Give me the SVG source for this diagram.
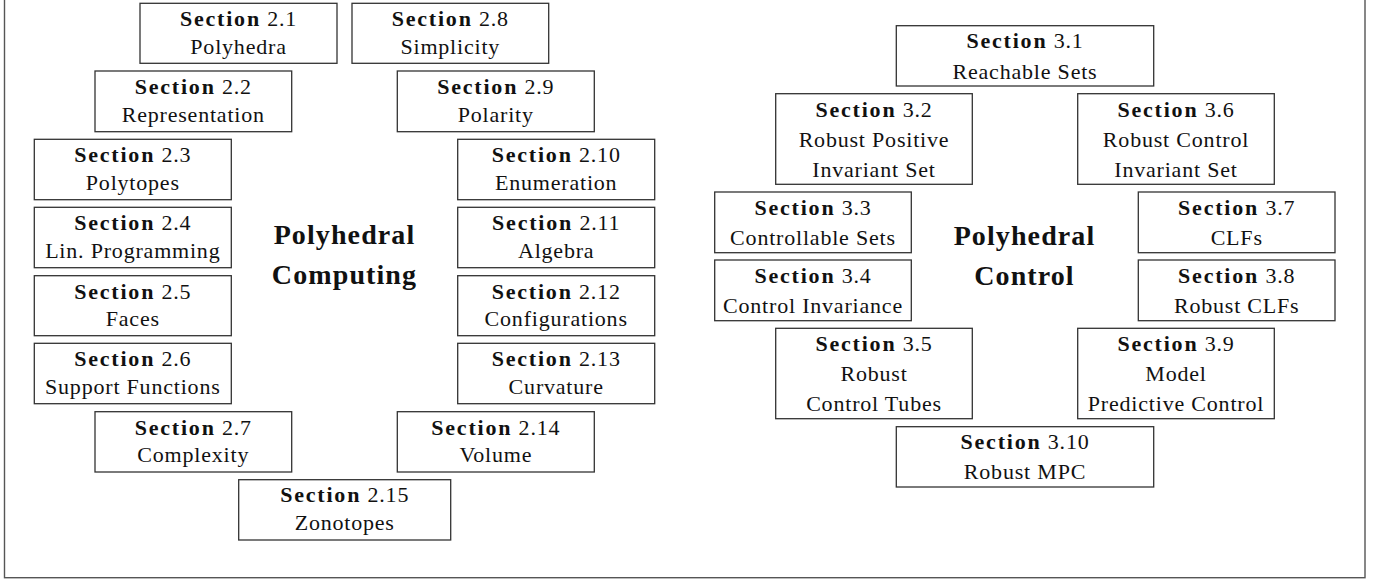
<svg xmlns="http://www.w3.org/2000/svg" width="1378" height="579" viewBox="0 0 1378 579">
<style>
.frame{fill:none;stroke:#555;stroke-width:1.4}
.box{fill:#fff;stroke:#333;stroke-width:1.3}
text{font-family:"Liberation Serif","Times New Roman",serif;font-size:22px;fill:#111;text-anchor:middle;letter-spacing:0.8px}
.b{font-weight:bold;letter-spacing:1.8px}
.title{font-size:28px;font-weight:bold;letter-spacing:1.1px}
</style>
<rect width="1378" height="579" fill="#fff"/>
<rect class="frame" x="4.5" y="-10" width="1360.5" height="587.7"/>
<g id="connectors"></g>
<g id="title-computing"><text class="title" x="344.5" y="244.3">Polyhedral</text><text class="title" x="344.5" y="283.5">Computing</text></g>
<g id="title-control"><text class="title" x="1024.5" y="245">Polyhedral</text><text class="title" x="1024.5" y="285">Control</text></g>

<g id="s2-1"><rect class="box" x="140" y="3.3" width="197" height="60"/><text x="238.5" y="26.3"><tspan class="b">Section</tspan> 2.1</text><text x="238.5" y="53.8">Polyhedra</text></g>
<g id="s2-2"><rect class="box" x="95" y="71" width="196.7" height="60.7"/><text x="193.3" y="94"><tspan class="b">Section</tspan> 2.2</text><text x="193.3" y="121.5">Representation</text></g>
<g id="s2-3"><rect class="box" x="34.3" y="139.3" width="197" height="60.4"/><text x="132.8" y="162.3"><tspan class="b">Section</tspan> 2.3</text><text x="132.8" y="189.8">Polytopes</text></g>
<g id="s2-4"><rect class="box" x="34.3" y="207.3" width="197" height="60.4"/><text x="132.8" y="230.3"><tspan class="b">Section</tspan> 2.4</text><text x="132.8" y="257.8">Lin. Programming</text></g>
<g id="s2-5"><rect class="box" x="34.3" y="275.7" width="197" height="60"/><text x="132.8" y="298.7"><tspan class="b">Section</tspan> 2.5</text><text x="132.8" y="326.2">Faces</text></g>
<g id="s2-6"><rect class="box" x="34.3" y="343.3" width="197" height="60.4"/><text x="132.8" y="366.3"><tspan class="b">Section</tspan> 2.6</text><text x="132.8" y="393.8">Support Functions</text></g>
<g id="s2-7"><rect class="box" x="95" y="411.7" width="196.7" height="60.3"/><text x="193.3" y="434.7"><tspan class="b">Section</tspan> 2.7</text><text x="193.3" y="462.2">Complexity</text></g>
<g id="s2-8"><rect class="box" x="352" y="3.3" width="196.7" height="60"/><text x="450.3" y="26.3"><tspan class="b">Section</tspan> 2.8</text><text x="450.3" y="53.8">Simplicity</text></g>
<g id="s2-9"><rect class="box" x="397.3" y="71" width="197" height="60.7"/><text x="495.8" y="94"><tspan class="b">Section</tspan> 2.9</text><text x="495.8" y="121.5">Polarity</text></g>
<g id="s2-10"><rect class="box" x="457.7" y="139.3" width="197" height="60.4"/><text x="556.2" y="162.3"><tspan class="b">Section</tspan> 2.10</text><text x="556.2" y="189.8">Enumeration</text></g>
<g id="s2-11"><rect class="box" x="457.7" y="207.3" width="197" height="60.4"/><text x="556.2" y="230.3"><tspan class="b">Section</tspan> 2.11</text><text x="556.2" y="257.8">Algebra</text></g>
<g id="s2-12"><rect class="box" x="457.7" y="275.7" width="197" height="60"/><text x="556.2" y="298.7"><tspan class="b">Section</tspan> 2.12</text><text x="556.2" y="326.2">Configurations</text></g>
<g id="s2-13"><rect class="box" x="457.7" y="343.3" width="197" height="60.4"/><text x="556.2" y="366.3"><tspan class="b">Section</tspan> 2.13</text><text x="556.2" y="393.8">Curvature</text></g>
<g id="s2-14"><rect class="box" x="397.3" y="411.7" width="197" height="60.3"/><text x="495.8" y="434.7"><tspan class="b">Section</tspan> 2.14</text><text x="495.8" y="462.2">Volume</text></g>
<g id="s2-15"><rect class="box" x="238.7" y="479.7" width="212" height="60.3"/><text x="344.7" y="502"><tspan class="b">Section</tspan> 2.15</text><text x="344.7" y="530">Zonotopes</text></g>

<g id="s3-1"><rect class="box" x="896.3" y="25.7" width="257.4" height="60.3"/><text x="1025" y="48.3"><tspan class="b">Section</tspan> 3.1</text><text x="1025" y="78.5">Reachable Sets</text></g>
<g id="s3-2"><rect class="box" x="775.7" y="93.7" width="196.6" height="90.6"/><text x="874" y="116.5"><tspan class="b">Section</tspan> 3.2</text><text x="874" y="146.5">Robust Positive</text><text x="874" y="176.5">Invariant Set</text></g>
<g id="s3-3"><rect class="box" x="714.7" y="192" width="196.6" height="60.7"/><text x="813" y="215"><tspan class="b">Section</tspan> 3.3</text><text x="813" y="245">Controllable Sets</text></g>
<g id="s3-4"><rect class="box" x="714.7" y="260" width="196.6" height="60.7"/><text x="813" y="283"><tspan class="b">Section</tspan> 3.4</text><text x="813" y="313">Control Invariance</text></g>
<g id="s3-5"><rect class="box" x="775.7" y="328.3" width="196.6" height="90.4"/><text x="874" y="351"><tspan class="b">Section</tspan> 3.5</text><text x="874" y="381">Robust</text><text x="874" y="411">Control Tubes</text></g>
<g id="s3-6"><rect class="box" x="1077.7" y="93.7" width="196.6" height="90.6"/><text x="1176" y="116.5"><tspan class="b">Section</tspan> 3.6</text><text x="1176" y="146.5">Robust Control</text><text x="1176" y="176.5">Invariant Set</text></g>
<g id="s3-7"><rect class="box" x="1138.3" y="192" width="196.7" height="60.7"/><text x="1236.7" y="215"><tspan class="b">Section</tspan> 3.7</text><text x="1236.7" y="245">CLFs</text></g>
<g id="s3-8"><rect class="box" x="1138.3" y="260" width="196.7" height="60.7"/><text x="1236.7" y="283"><tspan class="b">Section</tspan> 3.8</text><text x="1236.7" y="313">Robust CLFs</text></g>
<g id="s3-9"><rect class="box" x="1077.7" y="328.3" width="196.6" height="90.4"/><text x="1176" y="351"><tspan class="b">Section</tspan> 3.9</text><text x="1176" y="381">Model</text><text x="1176" y="411">Predictive Control</text></g>
<g id="s3-10"><rect class="box" x="896.3" y="426.7" width="257.4" height="60.3"/><text x="1025" y="448.5"><tspan class="b">Section</tspan> 3.10</text><text x="1025" y="478.5">Robust MPC</text></g>
</svg>
